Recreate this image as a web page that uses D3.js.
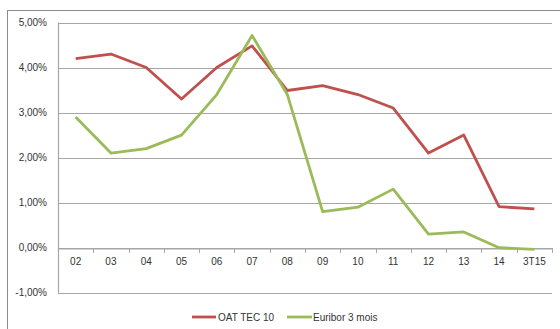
<!DOCTYPE html>
<html>
<head>
<meta charset="utf-8">
<script src="https://cdn.jsdelivr.net/npm/d3@7"></script>
<style>
  html, body { margin: 0; padding: 0; background: #fff; }
  svg { display: block; font-family: "Liberation Sans", Arial, sans-serif; }
</style>
</head>
<body>
<svg id="chart" width="560" height="329"></svg>
<script>
// Years (2002 to Q3 2015)
const categories = ["02","03","04","05","06","07","08","09","10","11","12","13","14","3T15"];
// Rates in percent
const oatTec10 = [4.2, 4.3, 4.0, 3.3, 4.0, 4.48, 3.49, 3.6, 3.4, 3.1, 2.1, 2.5, 0.91, 0.86];
const euribor3m = [2.9, 2.1, 2.2, 2.5, 3.4, 4.71, 3.4, 0.8, 0.9, 1.3, 0.3, 0.35, 0.0, -0.04];
const yTicks = [-1, 0, 1, 2, 3, 4, 5];
const seriesNames = ["OAT TEC 10", "Euribor 3 mois"];
const seriesColors = ["#c0504d", "#9bbb59"];

const svg = d3.select("#chart");
const plotLeft = 58, plotRight = 552, plotTop = 22.5, plotBottom = 292.7;

// Outer frame
svg.append("rect")
  .attr("x", 7.5).attr("y", 10.5)
  .attr("width", 600).attr("height", 400)
  .attr("fill", "none").attr("stroke", "#8c8c8c").attr("stroke-width", 1);

const x = d3.scaleBand().domain(categories).range([plotLeft, plotRight]).padding(0);
const y = d3.scaleLinear().domain([-1, 5]).range([plotBottom, plotTop]);

const fmt = v => d3.format(".2f")(v).replace(".", ",").replace("−", "-") + "%";

// Horizontal gridlines
svg.append("g")
  .selectAll("line")
  .data(yTicks)
  .join("line")
  .attr("x1", plotLeft).attr("x2", plotRight)
  .attr("y1", d => Math.round(y(d)) + 0.5).attr("y2", d => Math.round(y(d)) + 0.5)
  .attr("stroke", "#a6a6a6").attr("stroke-width", 1.2);

// Y axis line
svg.append("line")
  .attr("x1", plotLeft + 0.5).attr("x2", plotLeft + 0.5)
  .attr("y1", y(5)).attr("y2", y(-1))
  .attr("stroke", "#a6a6a6").attr("stroke-width", 1.2);

// Y tick labels
svg.append("g")
  .selectAll("text")
  .data(yTicks)
  .join("text")
  .attr("x", 47).attr("y", d => y(d) + 3.5)
  .attr("text-anchor", "end")
  .attr("font-size", 10)
  .attr("fill", "#333")
  .text(fmt);

// X axis on the zero line
const xAxis = d3.axisBottom(x).tickSize(0).tickPadding(9);
const gx = svg.append("g")
  .attr("transform", `translate(0,${Math.round(y(0)) + 0.5})`)
  .call(xAxis);
gx.select(".domain").attr("stroke", "#a6a6a6").attr("stroke-width", 1.2);
gx.selectAll("text").attr("font-size", 10).attr("fill", "#333")
  .attr("font-family", "Liberation Sans, Arial, sans-serif");

// Category boundary tick marks
svg.append("g")
  .selectAll("line")
  .data(categories.slice(1).concat(["end"]))
  .join("line")
  .attr("x1", (d, i) => Math.round(x(categories[0]) + (i + 1) * x.bandwidth()) + 0.5)
  .attr("x2", (d, i) => Math.round(x(categories[0]) + (i + 1) * x.bandwidth()) + 0.5)
  .attr("y1", Math.round(y(0))).attr("y2", Math.round(y(0)) + 5)
  .attr("stroke", "#a6a6a6");

// Series lines
const line = d3.line()
  .x((d, i) => x(categories[i]) + x.bandwidth() / 2)
  .y(d => y(d));

[oatTec10, euribor3m].forEach((vals, k) => {
  svg.append("path")
    .datum(vals)
    .attr("d", line)
    .attr("fill", "none")
    .attr("stroke", seriesColors[k])
    .attr("stroke-width", 2.8)
    .attr("stroke-linejoin", "round");
});

// Legend
const legendItems = [
  { x1: 192, x2: 216, tx: 218 },
  { x1: 287, x2: 312, tx: 313 }
];
legendItems.forEach((it, k) => {
  svg.append("line")
    .attr("x1", it.x1).attr("x2", it.x2)
    .attr("y1", 317).attr("y2", 317)
    .attr("stroke", seriesColors[k]).attr("stroke-width", 2.8);
  svg.append("text")
    .attr("x", it.tx).attr("y", 320.5)
    .attr("font-size", 10).attr("fill", "#333")
    .text(seriesNames[k]);
});
</script>
</body>
</html>
